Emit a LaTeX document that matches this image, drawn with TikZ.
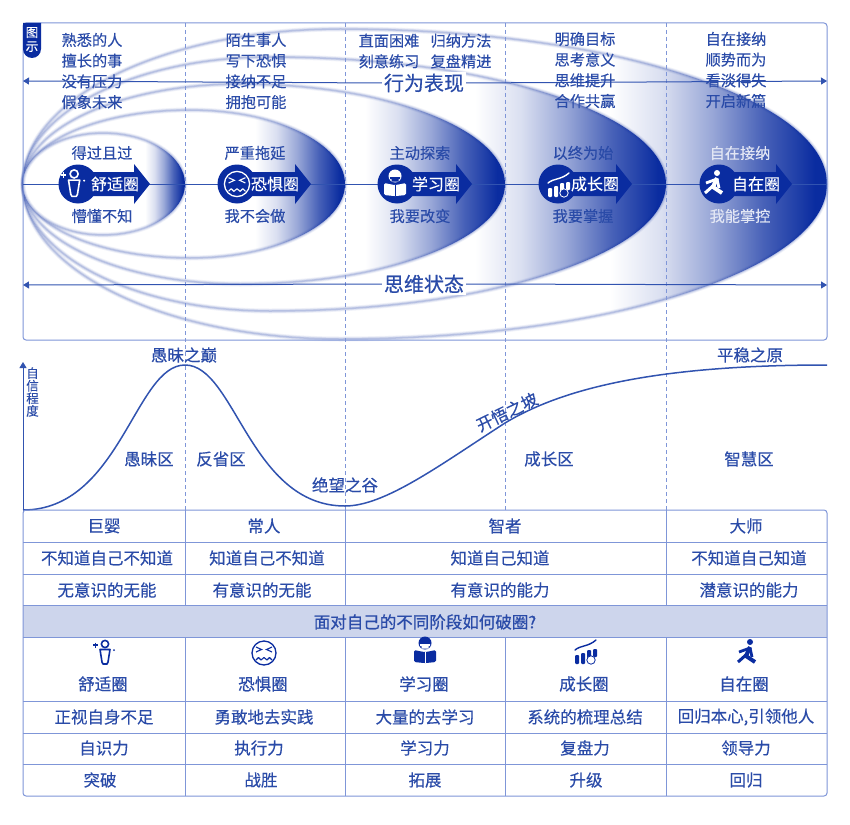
\documentclass[tikz,border=0pt]{standalone}
\usepackage{fontspec}
\setmainfont{Noto Sans CJK SC}[FakeBold=0.25]
\usetikzlibrary{arrows.meta,calc}
\definecolor{navy}{HTML}{0A2CA0}
\definecolor{txtblue}{HTML}{2A4BA8}
\definecolor{linblue}{HTML}{7F96D8}
\definecolor{axisblue}{HTML}{3153B0}
\definecolor{band}{HTML}{CDD5EC}
\pgfdeclarehorizontalshading{fade}{100bp}{rgb(0bp)=(1,1,1); rgb(25bp)=(1,1,1); rgb(37.5bp)=(.856,.876,.944); rgb(50bp)=(.596,.653,.843); rgb(62.5bp)=(.279,.380,.720); rgb(75bp)=(.039,.173,.627); rgb(100bp)=(.039,.173,.627)}
\tikzset{
  lbl/.style={text=txtblue,inner sep=0pt,font=\fontsize{16.5}{18}\selectfont},
  namelbl/.style={text=txtblue,inner sep=0pt,font=\fontsize{16.5}{18}\selectfont\addfontfeature{FakeBold=0.7}},
  small/.style={text=txtblue,inner sep=0pt,font=\fontsize{15.2}{20.7}\selectfont,align=center},
  head/.style={text=txtblue,inner sep=2pt,fill=white,font=\fontsize{20}{22}\selectfont\addfontfeature{FakeBold=0.5}},
  pilltxt/.style={text=white,inner sep=0pt,font=\fontsize{16}{18}\selectfont},
  grid/.style={draw=linblue,line width=1pt},
  vdash/.style={draw=linblue,line width=1pt,dash pattern=on 4pt off 3pt},
  axisline/.style={draw=axisblue,line width=1pt},
  tip/.style={-{Triangle[length=6pt,width=7pt]}},
  curve/.style={draw=axisblue,line width=1.5pt}
}
\newcommand{\eggpath}[4]{(#1,184) .. controls ({#1},{184-0.5523*#4}) and ({#2-0.5523*(#2-#1)},{184-#4}) .. (#2,{184-#4})
 .. controls ({#2+0.5523*(#3-#2)},{184-#4}) and (#3,{184-0.5523*#4}) .. (#3,184)
 .. controls (#3,{184+0.5523*#4}) and ({#2+0.5523*(#3-#2)},{184+#4}) .. (#2,{184+#4})
 .. controls ({#2-0.5523*(#2-#1)},{184+#4}) and (#1,{184+0.5523*#4}) .. (#1,184) -- cycle}
% left, apex x, right, half height, gradient start, gradient end
\newcommand{\egg}[6]{%
  \begin{scope}
    \clip \eggpath{#1}{#2}{#3}{#4};
    \fill[white] (#1,0) rectangle (#3,400);
    \shade[shading=fade] (#5,0) rectangle (#6,400);
    \fill[navy] (#6,0) rectangle (#3+1,400);
  \end{scope}
  \draw[navy,opacity=.06,line width=5pt] \eggpath{#1}{#2}{#3}{#4};
  \draw[navy,opacity=.10,line width=3.2pt] \eggpath{#1}{#2}{#3}{#4};
  \draw[navy,opacity=.16,line width=1.5pt] \eggpath{#1}{#2}{#3}{#4};
}
% arrow-shaped pill: circle centre x, head start x, tip x
\newcommand{\pill}[3]{%
  \fill[navy] (#1,172) -- (#2,172) -- (#2,164) -- (#3,184) -- (#2,204) -- (#2,196) -- (#1,196) -- cycle;
  \fill[navy] (#1,184) circle[radius=19.5];
}
% icons: x, y, scale, foreground, background
\newcommand{\iconperson}[5]{\begin{scope}[shift={(#1,#2)},scale=#3]
  \draw[#4,line width=1.6pt] (1,-9) circle[radius=3.6];
  \draw[#4,line width=1.6pt,line join=round] (-4,-3.5) -- (6,-3.5) -- (4,9) -- (3,11) -- (-1,11) -- (-2,9) -- cycle;
  \draw[#4,line width=1.2pt] (-11,-8) -- (-6,-8) (-8.5,-10.5) -- (-8.5,-5.5);
  \fill[#4] (10,-3) circle[radius=1];
\end{scope}}
\newcommand{\iconface}[5]{\begin{scope}[shift={(#1,#2)},scale=#3]
  \draw[#4,line width=1.3pt] (0,0) circle[radius=12];
  \draw[#4,line width=1.1pt] (-8,-6) -- (-2.5,-3.5) -- (-8,-1) (8,-6) -- (2.5,-3.5) -- (8,-1);
  \draw[#4,line width=1.1pt,line join=round] (-8,7) -- (-5.5,4.5) -- (-3,7) -- (0,4.5) -- (3,7) -- (5.5,4.5) -- (8,7);
\end{scope}}
\newcommand{\iconreader}[5]{\begin{scope}[shift={(#1,#2)},scale=#3]
  \fill[#4] (0,-8) circle[radius=6.5];
  \fill[#5] (-5,-7) rectangle (5,-5) (-3.5,-5) rectangle (3.5,-2.5);
  \fill[#4,rounded corners=1.5pt] (-11,-1) -- (-1,1) -- (1,1) -- (11,-1) -- (11,11) -- (1,12) -- (-1,12) -- (-11,11) -- cycle;
  \draw[#5,line width=.8pt] (0,1) -- (0,12);
\end{scope}}
\newcommand{\iconchart}[5]{\begin{scope}[shift={(#1,#2)},scale=#3]
  \draw[#4,line width=1.4pt,line cap=round] (-11,-3) .. controls (-5,-8) and (2,-6) .. (10,-13);
  \fill[#4,rounded corners=1pt] (-11,2) rectangle (-7,11);
  \fill[#4,rounded corners=1pt] (-5,0) rectangle (-1,11);
  \fill[#4,rounded corners=1pt] (1,-3) rectangle (5,6);
  \fill[#4,rounded corners=1pt] (7,-4) rectangle (11,4);
  \draw[#4,fill=#5,line width=.8pt] (5,7) circle[radius=4.2];
\end{scope}}
\newcommand{\iconrunner}[5]{\begin{scope}[shift={(#1,#2)},scale=#3]
  \fill[#4] (3,-11) circle[radius=3];
  \draw[#4,line width=4pt,line join=round] (3,-6) -- (-1,3) -- (8,9);
  \draw[#4,line width=2.8pt,line join=round] (3,-5) -- (-8,-1);
  \draw[#4,line width=3pt] (0,1) -- (-9,9);
  \draw[#4,line width=2.8pt] (3,-5) -- (5,4);
\end{scope}}
\begin{document}
\begin{tikzpicture}[x=1pt,y=-1pt]
\useasboundingbox (0,0) rectangle (850,824);
\fill[white] (0,0) rectangle (850,824);
% nested circles, outermost first
\egg{23}{340}{827}{155}{610}{815}
\egg{23}{270}{666}{127}{475}{658}
\egg{23}{240}{505}{100}{365}{497}
\egg{23}{190}{345}{74}{255}{340}
\egg{23}{103}{185}{51}{145}{183}
% frame and column guides
\draw[grid,rounded corners=3pt] (23,23) rectangle (827,340);
\foreach \x in {185,345,505,666} \draw[vdash] (\x,23) -- (\x,510);
% tag
\fill[navy] (23,23) -- (41,23) -- (41,49) arc[start angle=0,end angle=180,radius=9] -- cycle;
\node[text=white,inner sep=0pt,align=center,font=\fontsize{12.5}{14}\selectfont] (tag) at (32,39.5) {图\\示};
% horizontal axes
\coordinate (la) at (23,81); \coordinate (ra) at (827,81);
\coordinate (lb) at (23,285); \coordinate (rb) at (827,285);
\coordinate (lc) at (23,184); \coordinate (rc) at (827,184);
\draw[axisline] (lc) -- (rc);
\node[head] (hbeh) at (424,83) {行为表现};
\node[head] (hthk) at (424,284) {思维状态};
\draw[axisline,tip] (hbeh.west) -- (la);
\draw[axisline,tip] (hbeh.east) -- (ra);
\draw[axisline,tip] (hthk.west) -- (lb);
\draw[axisline,tip] (hthk.east) -- (rb);
% top texts
\node[small] (t1) at (92,71) {熟悉的人\\擅长的事\\没有压力\\假象未来};
\node[small] (t2) at (256,71) {陌生事人\\写下恐惧\\接纳不足\\拥抱可能};
\node[small] (t3a) at (389,51) {直面困难\\刻意练习};
\node[small] (t3b) at (461,51) {归纳方法\\复盘精进};
\node[small] (t4) at (585,70) {明确目标\\思考意义\\思维提升\\合作共赢};
\node[small] (t5) at (736,70) {自在接纳\\顺势而为\\看淡得失\\开启新篇};
% pills
\pill{78}{134}{150}
\pill{237}{295}{311}
\pill{397}{456}{472}
\pill{558}{616}{632}
\pill{719}{776}{792}
\iconperson{73}{184}{1.12}{white}{navy}
\iconface{237}{184}{1.05}{white}{navy}
\iconreader{395}{184}{1}{white}{navy}
\iconchart{559}{186}{1}{white}{navy}
\iconrunner{714}{184}{1}{white}{navy}
\node[pilltxt] (p1) at (115,184) {舒适圈};
\node[pilltxt] (p2) at (275,184) {恐惧圈};
\node[pilltxt] (p3) at (436,184) {学习圈};
\node[pilltxt] (p4) at (595,184) {成长圈};
\node[pilltxt] (p5) at (756,184) {自在圈};
% labels above and below the pills
\node[small] (a1) at (102,153) {得过且过};
\node[small] (a2) at (255,153) {严重拖延};
\node[small] (a3) at (420,153) {主动探索};
\node[small] (a4) at (583,153) {以终为始};
\node[small,text=white!88!navy] (a5) at (740,153) {自在接纳};
\node[small] (b1) at (102,216) {懵懂不知};
\node[small] (b2) at (255,216) {我不会做};
\node[small] (b3) at (420,216) {我要改变};
\node[small] (b4) at (583,216) {我要掌握};
\node[small,text=white!88!navy] (b5) at (740,216) {我能掌控};
% confidence curve
\coordinate (o) at (23,510); \coordinate (yt) at (23,362);
\draw[axisline,tip] (o) -- (yt);
\node[text=txtblue,inner sep=0pt,align=center,font=\fontsize{12.5}{12.6}\selectfont] (yl) at (32.5,392) {自\\信\\程\\度};
\draw[curve] (o) .. controls (120,510) and (135,365) .. (185,365)
  .. controls (235,365) and (250,506) .. (345,506)
  .. controls (385,506) and (440,465) .. (505,423)
  .. controls (560,390) and (650,365) .. (827,365);
\node[lbl] (c1) at (184,355) {愚昧之巅};
\node[lbl] (c2) at (750,355) {平稳之原};
\node[lbl] (c3) at (149,459) {愚昧区};
\node[lbl] (c4) at (221,459) {反省区};
\node[lbl] (c5) at (345,485) {绝望之谷};
\node[lbl,rotate=26] (c6) at (507,412) {开悟之坡};
\node[lbl] (c7) at (549,459) {成长区};
\node[lbl] (c8) at (749,459) {智慧区};
% table
\fill[band] (23,605) rectangle (827,637);
\draw[grid,rounded corners=3pt] (23,510) rectangle (827,796);
\foreach \y in {542,574,605,637,701,733,764} \draw[grid] (23,\y) -- (827,\y);
\foreach \x in {185,345,666} \draw[grid] (\x,510) -- (\x,605);
\foreach \x in {185,345,505,666} \draw[grid] (\x,637) -- (\x,796);
\node[lbl] (r1a) at (104,526) {巨婴};
\node[lbl] (r1b) at (264,526) {常人};
\node[lbl] (r1c) at (505,526) {智者};
\node[lbl] (r1d) at (746,526) {大师};
\node[lbl] (r2a) at (107,558) {不知道自己不知道};
\node[lbl] (r2b) at (267,558) {知道自己不知道};
\node[lbl] (r2c) at (500,558) {知道自己知道};
\node[lbl] (r2d) at (749,558) {不知道自己知道};
\node[lbl] (r3a) at (107,590) {无意识的无能};
\node[lbl] (r3b) at (262,590) {有意识的无能};
\node[lbl] (r3c) at (500,590) {有意识的能力};
\node[lbl] (r3d) at (749,590) {潜意识的能力};
\node[namelbl] (banner) at (425,622) {面对自己的不同阶段如何破圈?};
\iconperson{104}{653}{1}{navy}{white}
\iconface{264}{653}{1}{navy}{white}
\iconreader{425}{651}{1}{navy}{white}
\iconchart{586}{653}{1}{navy}{white}
\iconrunner{747}{653}{1}{navy}{white}
\node[namelbl] (n1) at (103,684) {舒适圈};
\node[namelbl] (n2) at (263,684) {恐惧圈};
\node[namelbl] (n3) at (424,684) {学习圈};
\node[namelbl] (n4) at (584,684) {成长圈};
\node[namelbl] (n5) at (744,684) {自在圈};
\node[lbl] (s1) at (104,717) {正视自身不足};
\node[lbl] (s2) at (264,717) {勇敢地去实践};
\node[lbl] (s3) at (425,717) {大量的去学习};
\node[lbl] (s4) at (585,717) {系统的梳理总结};
\node[lbl] (s5) at (746,717) {回归本心,引领他人};
\node[lbl] (f1) at (104,748) {自识力};
\node[lbl] (f2) at (259,748) {执行力};
\node[lbl] (f3) at (425,748) {学习力};
\node[lbl] (f4) at (585,748) {复盘力};
\node[lbl] (f5) at (746,748) {领导力};
\node[lbl] (g1) at (100,780) {突破};
\node[lbl] (g2) at (261,780) {战胜};
\node[lbl] (g3) at (425,780) {拓展};
\node[lbl] (g4) at (586,780) {升级};
\node[lbl] (g5) at (746,780) {回归};
\end{tikzpicture}
\end{document}
